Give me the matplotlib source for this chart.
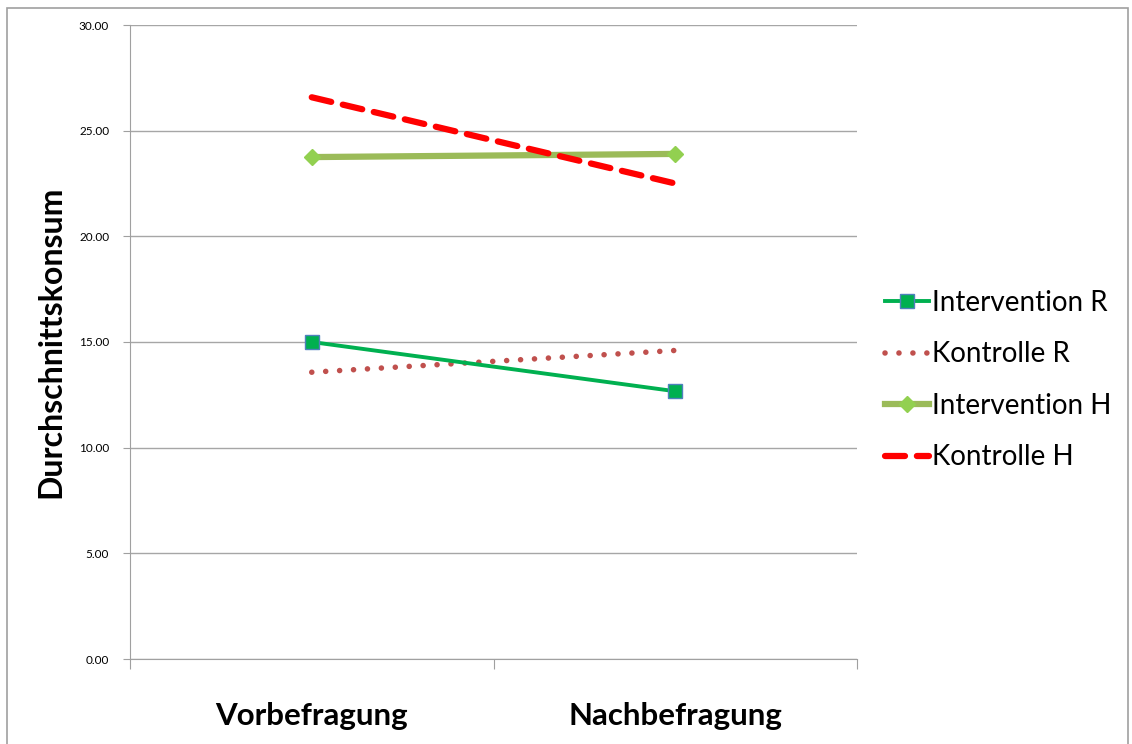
import matplotlib.pyplot as plt
from matplotlib.patches import Rectangle

# Befragungszeitpunkte und Mittelwerte je Gruppe
zeitpunkte = ['Vorbefragung', 'Nachbefragung']
intervention_r = [15.0, 12.67]
kontrolle_r = [13.57, 14.6]
intervention_h = [23.75, 23.9]
kontrolle_h = [26.58, 22.5]

plt.rcParams['font.family'] = ['Lato', 'DejaVu Sans']

fig = plt.figure(figsize=(11.32, 7.44), dpi=100)
ax = fig.add_axes([130/1132, 1-659/744, (857-130)/1132, (659-25)/744])

# Rahmen um das ganze Diagramm
fig.patches.append(Rectangle((7/1132, -0.05), (1128-7)/1132, 1.05-8/744,
                             transform=fig.transFigure, fill=False,
                             edgecolor='#a0a0a0', linewidth=1.2))

x = [0.5, 1.5]
ax.plot(x, intervention_r, color='#00b050', lw=2.8, marker='s', ms=10,
        mfc='#00b050', mec='#4f81bd', mew=1, label='Intervention R', zorder=4)
ax.plot(x, kontrolle_r, color='#c0504d', lw=4, ls=(0, (0.01, 2.5)),
        dash_capstyle='round', label='Kontrolle R', zorder=3)
ax.plot(x, intervention_h, color='#9bbb59', lw=4.5, marker='D', ms=8,
        mfc='#92d050', mec='#92d050', label='Intervention H', zorder=3)
ax.plot(x, kontrolle_h, color='#ff0000', lw=4.5, ls=(0, (3.2, 1.9)),
        dash_capstyle='round', label='Kontrolle H', zorder=3)

ax.set_xlim(0, 2)
ax.set_ylim(0, 30)
ax.set_yticks(range(0, 31, 5))
ax.set_yticklabels(['%.2f' % v for v in range(0, 31, 5)], fontsize=8.5)
ax.grid(axis='y', color='#a6a6a6', lw=1)
ax.set_axisbelow(True)

ax.set_xticks([0, 1, 2])
ax.set_xticklabels([])
ax.set_xticks(x, minor=True)
ax.set_xticklabels(zeitpunkte, minor=True, fontsize=22.5, fontweight='bold')
ax.tick_params(axis='x', which='minor', length=0, pad=31)
ax.tick_params(axis='x', which='major', length=7, direction='out', color='#a0a0a0')
ax.tick_params(axis='y', length=5, direction='out', color='#a0a0a0', pad=10)

for s in ['top', 'right']:
    ax.spines[s].set_visible(False)
for s in ['left', 'bottom']:
    ax.spines[s].set_color('#a0a0a0')

ax.set_ylabel('Durchschnittskonsum', fontsize=23, fontweight='bold', labelpad=10)

ax.legend(loc='center left', bbox_to_anchor=(1.0, 0.44), frameon=False,
          fontsize=20, handlelength=1.6, handletextpad=0.1, labelspacing=0.92,
          borderaxespad=0.6)

fig.savefig('out.png', dpi=100)
